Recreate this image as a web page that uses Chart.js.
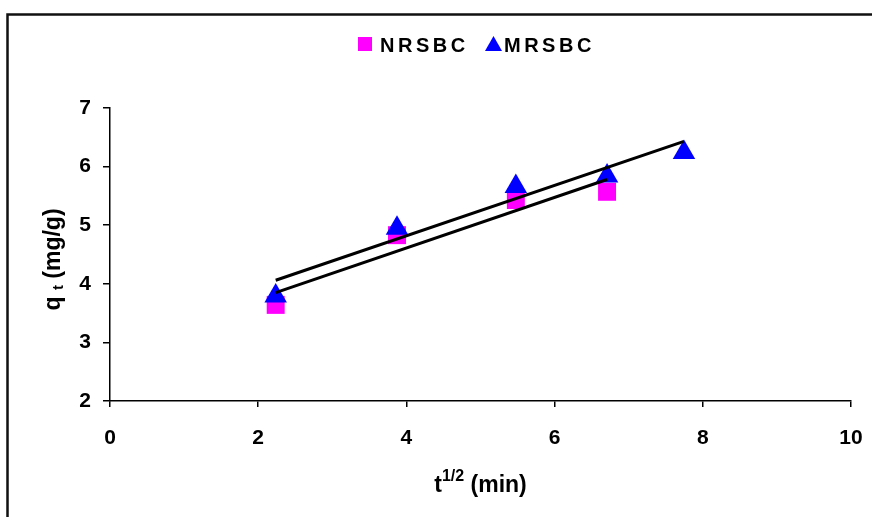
<!DOCTYPE html>
<html>
<head>
<meta charset="utf-8">
<script src="https://cdn.jsdelivr.net/npm/chart.js@4.4.1/dist/chart.umd.min.js"></script>
<style>
  html, body { margin: 0; padding: 0; background: #fff; }
  #wrap { width: 872px; height: 517px; position: relative; }
</style>
</head>
<body>
<div id="wrap"><canvas id="kineticChart" width="872" height="517"></canvas></div>
<script>
// t^1/2 values (min^1/2)
const tSqrt = [2.236, 3.873, 5.477, 6.708, 7.746];
const nrsbcQt = [3.64, 4.83, 5.43, 5.57];
const mrsbcQt = [3.79, 4.95, 5.66, 5.84, 6.24];
// trend line ends
const nrsbcTrendX = [2.236, 6.708];
const nrsbcTrendY = [3.85, 5.78];
const mrsbcTrendX = [2.236, 7.746];
const mrsbcTrendY = [4.06, 6.43];
const xTicks = [0, 2, 4, 6, 8, 10];
const yTicks = [2, 3, 4, 5, 6, 7];

const FONT = "Arial, 'Liberation Sans', sans-serif";

function pts(xs, ys) {
  return ys.map((y, i) => ({ x: xs[i], y: y }));
}

// outer frame, legend and axis titles
const decorPlugin = {
  id: 'decor',
  beforeDraw(chart) {
    const ctx = chart.ctx;
    ctx.save();
    ctx.fillStyle = '#fff';
    ctx.fillRect(0, 0, chart.width, chart.height);
    ctx.restore();
  },
  afterDraw(chart) {
    const ctx = chart.ctx;
    const area = chart.chartArea;
    ctx.save();
    ctx.strokeStyle = '#111';
    ctx.lineWidth = 2.5;
    ctx.strokeRect(7.5, 14.5, chart.width + 20, chart.height + 20);

    // legend
    ctx.fillStyle = '#ff00ff';
    ctx.fillRect(358, 37, 14, 14);
    ctx.fillStyle = '#0000ff';
    ctx.beginPath();
    ctx.moveTo(493.5, 36);
    ctx.lineTo(502, 51);
    ctx.lineTo(485, 51);
    ctx.closePath();
    ctx.fill();
    ctx.fillStyle = '#000';
    ctx.font = 'bold 20px ' + FONT;
    ctx.textBaseline = 'alphabetic';
    ctx.letterSpacing = '3.5px';
    ctx.fillText('NRSBC', 380, 52);
    ctx.fillText('MRSBC', 504, 52);
    ctx.letterSpacing = '0px';

    // x title  t^(1/2) (min)
    const cx = (area.left + area.right) / 2;
    ctx.font = 'bold 23px ' + FONT;
    const w1 = ctx.measureText('t').width;
    ctx.font = 'bold 16px ' + FONT;
    const w2 = ctx.measureText('1/2').width;
    ctx.font = 'bold 23px ' + FONT;
    const w3 = ctx.measureText(' (min)').width;
    let x = cx - (w1 + w2 + w3) / 2;
    ctx.fillText('t', x, 492);
    ctx.font = 'bold 16px ' + FONT;
    ctx.fillText('1/2', x + w1, 481);
    ctx.font = 'bold 23px ' + FONT;
    ctx.fillText(' (min)', x + w1 + w2, 492);

    // y title  q_t (mg/g)
    const cy = (area.top + area.bottom) / 2 + 5;
    ctx.translate(60, cy);
    ctx.rotate(-Math.PI / 2);
    ctx.font = 'bold 23px ' + FONT;
    const a = ctx.measureText('q ').width;
    ctx.font = 'bold 15px ' + FONT;
    const b = ctx.measureText('t').width;
    ctx.font = 'bold 23px ' + FONT;
    const c = ctx.measureText(' (mg/g)').width;
    x = -(a + b + c) / 2;
    ctx.fillText('q ', x, 0);
    ctx.font = 'bold 15px ' + FONT;
    ctx.fillText('t', x + a, 3);
    ctx.font = 'bold 23px ' + FONT;
    ctx.fillText(' (mg/g)', x + a + b, 0);
    ctx.restore();
  }
};

const ctx = document.getElementById('kineticChart').getContext('2d');
const kineticChart = new Chart(ctx, {
  type: 'scatter',
  data: {
    datasets: [
      {
        label: 'NRSBC trend',
        data: pts(nrsbcTrendX, nrsbcTrendY),
        showLine: true,
        borderColor: '#000',
        borderWidth: 3,
        pointRadius: 0,
        order: 0
      },
      {
        label: 'MRSBC trend',
        data: pts(mrsbcTrendX, mrsbcTrendY),
        showLine: true,
        borderColor: '#000',
        borderWidth: 3,
        pointRadius: 0,
        order: 0
      },
      {
        label: 'NRSBC',
        data: pts(tSqrt, nrsbcQt),
        pointStyle: 'rect',
        pointRadius: 12.7,
        backgroundColor: '#ff00ff',
        borderWidth: 0,
        order: 2
      },
      {
        label: 'MRSBC',
        data: pts(tSqrt, mrsbcQt),
        pointStyle: 'triangle',
        pointRadius: 13,
        backgroundColor: '#0000ff',
        borderWidth: 0,
        order: 1
      }
    ]
  },
  options: {
    responsive: false,
    animation: false,
    events: [],
    layout: { padding: { left: 0, top: 108, right: 21, bottom: 0 } },
    plugins: {
      legend: { display: false },
      tooltip: { enabled: false }
    },
    scales: {
      x: {
        type: 'linear',
        min: 0,
        max: 10,
        afterBuildTicks: s => { s.ticks = xTicks.map(v => ({ value: v })); },
        afterFit: s => { s.height = 116; s.paddingRight = 0; },
        grid: { drawOnChartArea: false, drawTicks: true, tickLength: 6, color: '#000', lineWidth: 1.5 },
        border: { color: '#000', width: 1.5 },
        ticks: { color: '#000', padding: 19, font: { family: FONT, size: 21, weight: 'bold' }, maxRotation: 0 }
      },
      y: {
        type: 'linear',
        min: 2,
        max: 7,
        afterBuildTicks: s => { s.ticks = yTicks.map(v => ({ value: v })); },
        afterFit: s => { s.width = 110; },
        grid: { drawOnChartArea: false, drawTicks: true, tickLength: 7, color: '#000', lineWidth: 1.5 },
        border: { color: '#000', width: 1.5 },
        ticks: { color: '#000', padding: 12, font: { family: FONT, size: 21, weight: 'bold' } }
      }
    }
  },
  plugins: [decorPlugin]
});
</script>
</body>
</html>
